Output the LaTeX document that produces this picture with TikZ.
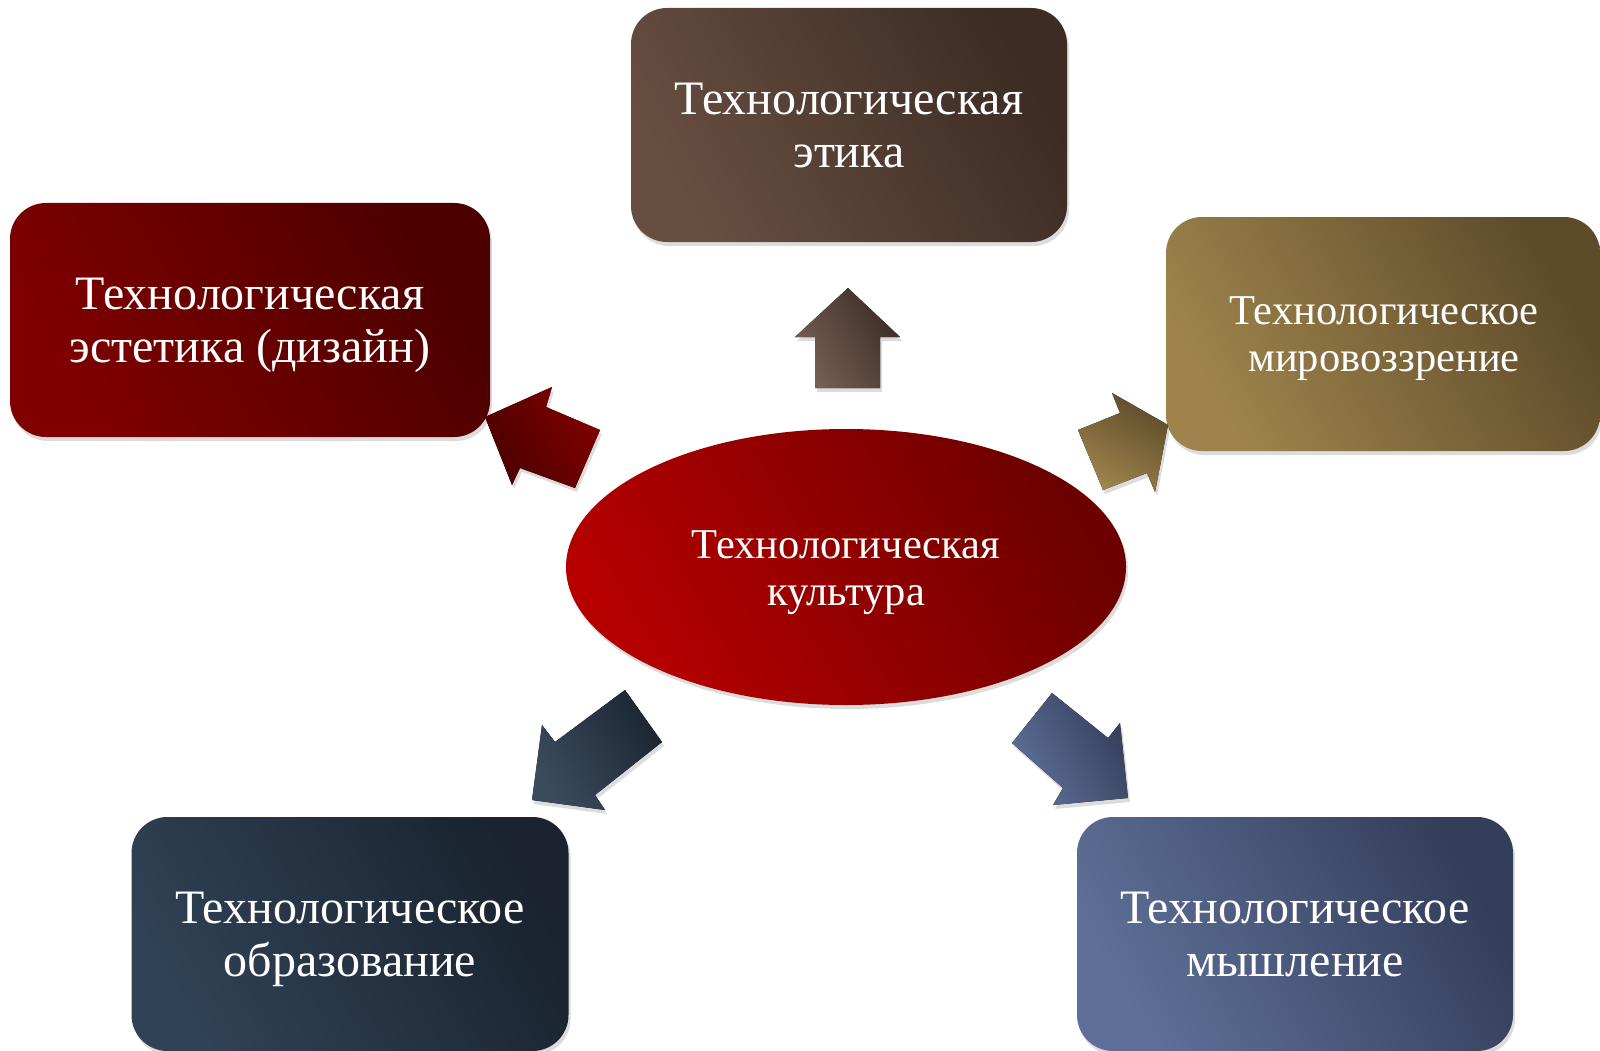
\documentclass[tikz,border=0pt]{standalone}
\usepackage{fontspec}
\setmainfont{Liberation Serif}
\usetikzlibrary{shapes.geometric,shadows}
\definecolor{etL}{RGB}{104,78,65}
\definecolor{etD}{RGB}{60,44,35}
\definecolor{esL}{RGB}{128,0,0}
\definecolor{esD}{RGB}{76,0,0}
\definecolor{mvL}{RGB}{158,132,76}
\definecolor{mvD}{RGB}{94,75,42}
\definecolor{obL}{RGB}{48,66,86}
\definecolor{obD}{RGB}{26,35,47}
\definecolor{myL}{RGB}{94,112,152}
\definecolor{myD}{RGB}{52,62,90}
\definecolor{kuL}{RGB}{182,0,0}
\definecolor{kuD}{RGB}{108,0,0}
\tikzset{
  shad/.style={drop shadow={opacity=0.28, shadow xshift=2pt, shadow yshift=-4pt}},
  box/.style={rounded corners=36pt, minimum height=234pt, inner sep=0pt, shad},
  txt/.style={align=center, text=white, inner sep=0pt, font=\fontsize{48}{53}\selectfont},
  txts/.style={txt, font=\fontsize{42.5}{47}\selectfont},
  blockarrow/.style={shad},
}
\begin{document}
\begin{tikzpicture}[x=1pt,y=-1pt]
\useasboundingbox (0,0) rectangle (1600,1051);
% boxes
\node[box, minimum width=436pt, left color=etL, right color=etD, shading angle=120] (etika) at (849,125) {};
\node[box, minimum width=480pt, left color=esL, right color=esD, shading angle=120] (estetika) at (250,320) {};
\node[box, minimum width=434pt, left color=mvL, right color=mvD, shading angle=120] (mirovozz) at (1383,334) {};
\node[box, minimum width=437pt, left color=obL, right color=obD, shading angle=120] (obraz) at (350,934) {};
\node[box, minimum width=436pt, left color=myL, right color=myD, shading angle=120] (myshl) at (1295,934) {};
% centre
\node[ellipse, minimum width=560pt, minimum height=276pt, inner sep=0pt,
  left color=kuL, right color=kuD, shading angle=120, shad] (kultura) at (846,567) {};
% texts
\node[txt] (etikaT) at (849,126) {Технологическая\\этика};
\node[txt] (estetikaT) at (250,325) {Технологическая\\эстетика (дизайн)};
\node[txts] (mirovozzT) at (1384,339) {Технологическое\\мировоззрение};
\node[txt] (obrazT) at (350,939) {Технологическое\\образование};
\node[txt] (myshlT) at (1295,935) {Технологическое\\мышление};
\node[txts] (kulturaT) at (846,573) {Технологическая\\культура};
% block arrows
\fill[blockarrow, left color=etL!90, right color=etD, shading angle=120]
  (848,288) -- (900,337) -- (880,337) -- (880,388) -- (815,388) -- (815,337) -- (795,337) -- cycle;
\fill[blockarrow, left color=esD, right color=esL, shading angle=120]
  (485,417) -- (552,387) -- (546,407) -- (600,430) -- (575,488) -- (520,468) -- (512,485) -- cycle;
\fill[blockarrow, left color=mvL, right color=mvD, shading angle=150]
  (1168,425) -- (1155,492) -- (1147,473) -- (1103,490) -- (1078,430) -- (1120,413) -- (1112,393) -- cycle;
\fill[blockarrow, left color=obL!95, right color=obD!90!obL, shading angle=120]
  (532,800) -- (542,725) -- (555,742) -- (625,690) -- (662,742) -- (595,795) -- (605,810) -- cycle;
\fill[blockarrow, left color=myL, right color=myD, shading angle=120]
  (1128,798) -- (1053,805) -- (1063,788) -- (1012,743) -- (1052,693) -- (1108,738) -- (1120,723) -- cycle;
\end{tikzpicture}
\end{document}
